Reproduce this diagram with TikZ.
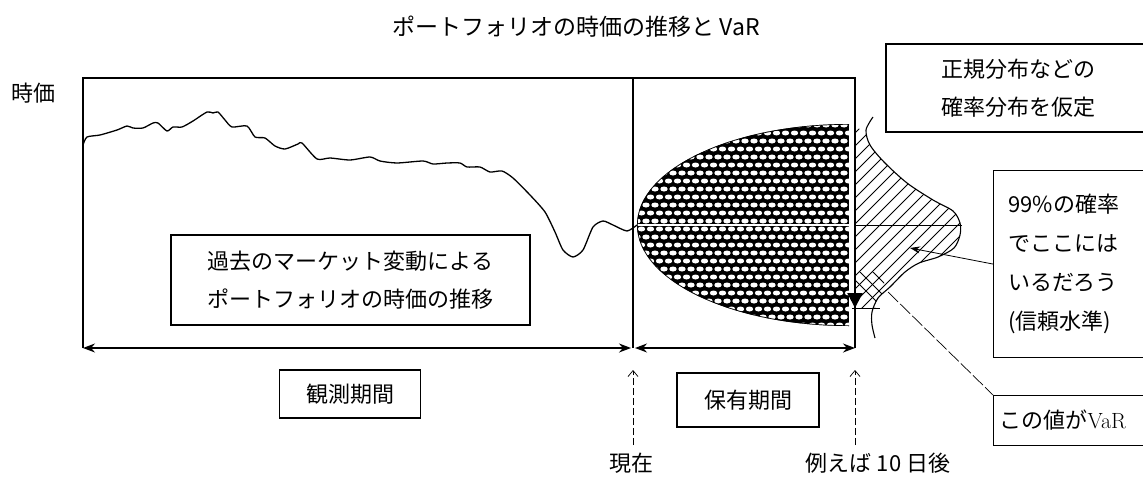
\documentclass[tikz,border=0pt]{standalone}
\usepackage{fontspec}
\newfontfamily\jpfont{Noto Sans CJK JP}
\usetikzlibrary{arrows.meta}

\begin{document}
\begin{tikzpicture}[x=1pt, y=-1pt, line width=1.2pt,
    >={Stealth[length=12pt,width=9pt]},
    box/.style={draw, line width=1.1pt, inner sep=0pt,
      font=\jpfont\fontsize{22}{38}\selectfont, align=center},
    lbl/.style={inner sep=0pt, font=\jpfont\fontsize{22}{26}\selectfont},
    upline/.style={line width=0.7pt, dash pattern=on 7pt off 3pt,
      -{Straight Barb[length=6pt,width=10pt]}},
    hatch/.style={line width=0.8pt}]

  \useasboundingbox (0,0) rectangle (1143,482);

  % Marco
  \def\xnow{633}
  \def\xend{855}
  \coordinate (tl) at (83,78);
  \coordinate (bl) at (83,348);
  \coordinate (nowtop) at (\xnow,78);
  \coordinate (nowbot) at (\xnow,348);
  \coordinate (endtop) at (\xend,78);
  \coordinate (endbot) at (\xend,348);

  \draw (bl) -- (tl) -- (endtop) -- (endbot);
  \draw (nowtop) -- (nowbot);

  % Distribucion futura (media elipse con puntos)
  \begin{scope}
    \clip (600,100) rectangle (849,340);
    \clip (849,225) ellipse [x radius=212, y radius=101];
    \fill[black] (600,100) rectangle (849,340);
    \foreach \r in {0,...,25}
      \foreach \c in {0,...,24}
        \fill[white] ({637+\c*9+mod(\r,2)*4.5},{125+\r*8})
          ellipse [x radius=3.7, y radius=2.5];
    \draw[white, line width=2pt] (630,225) -- (849,225);
    \draw[line width=1.4pt] (849,225) ellipse [x radius=212, y radius=101];
  \end{scope}

  % Curva del precio
  \draw[line width=1.3pt, line join=round] plot[smooth, tension=0.4] coordinates {
    (83,145) (87,137) (100,135) (117,130) (127,126) (133,128) (143,128)
    (153,123) (158,123) (167,131) (173,127) (182,127) (193,121) (207,112)
    (213,113) (218,112) (225,120) (232,127) (247,126) (255,137) (265,138)
    (275,146) (285,149) (298,144) (302,143) (317,159) (330,158) (350,160)
    (370,157) (380,161) (397,163) (423,161) (433,164) (447,163) (460,163)
    (467,167) (480,167) (490,172) (502,171) (513,178) (530,195) (545,212)
    (555,232) (563,250) (573,257) (583,250) (593,227) (603,221) (613,225)
    (627,231) (637,225)};

  % Distribucion normal (rayada)
  \begin{scope}
    \clip (855,128) -- plot[smooth] coordinates {(866,130) (870,145) (884,162)
      (907,183) (933,200) (953,211) (960,223) (960,235) (954,248) (938,257)
      (919,263) (905,272) (890,287) (878,298) (875,308)} -- (855,308) -- cycle;
    \foreach \c in {975,988,...,1275}
      \draw[hatch] (\c-100,100) -- (\c-350,350);
    \clip (850,272) rectangle (884,308);
    \foreach \c in {575,588,...,620}
      \draw[hatch] (\c+240,240) -- (\c+330,330);
  \end{scope}
  \draw[line width=1.1pt] plot[smooth] coordinates {(873,117) (866,130)
    (870,145) (884,162) (907,183) (933,200) (953,211) (960,223) (960,235)
    (954,248) (938,257) (919,263) (905,272) (890,287) (878,298) (872,312)
    (872,325) (875,338)};
  \draw[line width=0.9pt] (\xend,225) -- (962,225);
  \draw[line width=0.9pt] (852,308) -- (880,308);

  % VaR
  \draw[line width=2.4pt, -{Triangle[length=15pt,width=15pt]}]
    (\xend,225) -- (\xend,308);

  % Flechas de los periodos
  \draw[<->] (bl) -- ([xshift=-2pt]nowbot);
  \draw[<->] ([xshift=2pt]nowbot) -- (endbot);

  % Textos
  \node[lbl, anchor=west, font=\jpfont\fontsize{23}{26}\selectfont]
    (title) at (392,27) {ポートフォリオの時価の推移と VaR};
  \node[lbl] (jika) at (33,93) {時価};

  \node[box, minimum width=359pt, minimum height=90pt] (past) at (350.5,280)
    {過去のマーケット変動による\\ポートフォリオの時価の推移};
  \node[box, minimum width=141pt, minimum height=48pt] (obs) at (350,394) {観測期間};
  \node[box, minimum width=142pt, minimum height=54pt] (hold) at (748,400) {保有期間};

  \node[box, minimum width=264pt, minimum height=88pt] (normbox) at (1018,88)
    {正規分布などの\\確率分布を仮定};
  \node[box, anchor=north west, align=left, inner xsep=15pt, text width=142pt,
    minimum height=187pt, font=\jpfont\fontsize{22}{39}\selectfont]
    (conf) at (993,170) {99\%の確率\\でここには\\いるだろう\\(信頼水準)};
  \node[box, anchor=north west, align=left, inner xsep=6pt, text width=145pt,
    minimum height=50pt] (varbox) at (993,395) {この値が{\rmfamily VaR}};

  \node[lbl] (now) at (631,463) {現在};
  \node[lbl] (later) at (878,463) {例えば 10 日後};

  % Conectores
  \coordinate (confpt) at (910,248);
  \coordinate (vartail) at (888,292);
  \draw[line width=0.8pt, -{Stealth[length=10pt,width=7pt]}] (conf.west) -- (confpt);
  \draw[line width=0.7pt, dash pattern=on 14pt off 3pt] (vartail) -- (varbox.north west);

  \coordinate (nowup) at (\xnow,370);
  \coordinate (nowdn) at (\xnow,445);
  \coordinate (endup) at (\xend,370);
  \coordinate (enddn) at (\xend,445);
  \draw[upline] (nowdn) -- (nowup);
  \draw[upline] (enddn) -- (endup);

\end{tikzpicture}
\end{document}
